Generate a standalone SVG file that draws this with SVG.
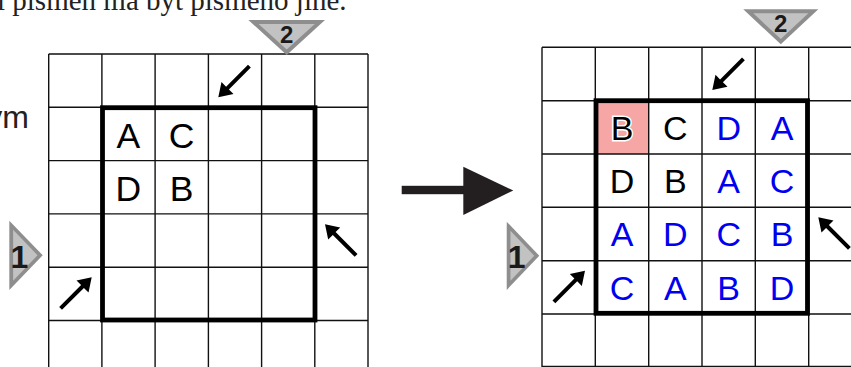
<svg xmlns="http://www.w3.org/2000/svg" xmlns:xlink="http://www.w3.org/1999/xlink" width="851" height="367" viewBox="0 0 851 367">
<style>
.grid{fill:none;stroke:#111;stroke-width:1.4}
.box{fill:none;stroke:#000;stroke-width:4.8}
.let{font-family:"Liberation Sans",Arial,sans-serif;text-anchor:middle}
.L{font-size:35.5px;fill:#000}
.R{font-size:34px}
.k{fill:#000}
.b{fill:#0000f0}
.num{font-family:"Liberation Sans",Arial,sans-serif;text-anchor:middle;fill:#1a1a1a}
.serif{font-family:"Liberation Serif","Times New Roman",serif;font-size:29px;fill:#222}
.sans{font-family:"Liberation Sans",Arial,sans-serif;font-size:32px;fill:#222}
.arr{fill:#000}
</style>
<defs>
<path id="sa" d="M0,0 L-13,-8.5 L-13,-2 L-44,-2 L-44,2 L-13,2 L-13,8.5 Z"/>
<g id="tri">
<polygon points="-38.3,-17.5 38.3,-17.5 0,17.5" fill="#8e8e8e"/>
<polygon points="-28.1,-13.5 28.1,-13.5 0,12.1" fill="#c2c2c2"/>
</g>
</defs>
<rect width="851" height="367" fill="#fff"/>

<text class="serif" x="-3" y="10.3">i písmen má být písmeno jiné.</text>
<text class="sans" x="29" y="128.3" text-anchor="end">ym</text>

<g id="left-grid">
<path class="grid" d="M48.7,54V367M101.9,54V367M155.1,54V367M208.4,54V367M261.6,54V367M314.8,54V367M368,54V367M48.7,54H368M48.7,107.3H368M48.7,160.6H368M48.7,213.9H368M48.7,267.2H368M48.7,320.5H368"/>
<rect class="box" x="102.5" y="107.7" width="212.5" height="212.3"/>
<text class="let L" x="128.3" y="147.7">A</text>
<text class="let L" x="181.6" y="147.7">C</text>
<text class="let L" x="128.3" y="200.8">D</text>
<text class="let L" x="181.6" y="200.8">B</text>
</g>

<g id="left-arrows">
<use xlink:href="#sa" href="#sa" class="arr" transform="translate(218.3,97.3) rotate(135)"/>
<use xlink:href="#sa" href="#sa" class="arr" transform="translate(91.7,277.3) rotate(-45)"/>
<use xlink:href="#sa" href="#sa" class="arr" transform="translate(325,224.3) rotate(-135)"/>
</g>

<g id="left-marker-2">
<use xlink:href="#tri" href="#tri" transform="translate(286.7,37.5)"/>
<text class="num" x="286.7" y="43.3" font-size="24" font-weight="bold">2</text>
</g>
<g id="left-marker-1">
<use xlink:href="#tri" href="#tri" transform="translate(26,255.3) rotate(-90) scale(0.905,0.954)"/>
<text class="num" x="19.5" y="268.3" font-size="32" font-weight="bold">1</text>
</g>

<g id="big-arrow" fill="#231f20">
<rect x="401.7" y="185.8" width="64" height="8.4"/>
<polygon points="463.3,166.7 513.3,190.5 463.3,215"/>
</g>

<g id="right-grid">
<rect x="595.3" y="100.7" width="53.4" height="53.3" fill="#f6a6a4"/>
<path class="grid" d="M542,47.3V367M595.3,47.3V367M648.7,47.3V367M702,47.3V367M755.3,47.3V367M808.7,47.3V367M542,47.3H851M542,100.7H851M542,154H851M542,207.3H851M542,260.7H851M542,314H851M542,366.5H851"/>
<rect class="box" x="596" y="100.7" width="211.5" height="212.6"/>
<text class="let R k" x="622" y="139.8" stroke="#fff" stroke-width="3" paint-order="stroke">B</text>
<text class="let R k" x="675.3" y="139.8">C</text>
<text class="let R b" x="728.7" y="139.8">D</text>
<text class="let R b" x="782" y="139.8">A</text>
<text class="let R k" x="622" y="193.1">D</text>
<text class="let R k" x="675.3" y="193.1">B</text>
<text class="let R b" x="728.7" y="193.1">A</text>
<text class="let R b" x="782" y="193.1">C</text>
<text class="let R b" x="622" y="246.4">A</text>
<text class="let R b" x="675.3" y="246.4">D</text>
<text class="let R b" x="728.7" y="246.4">C</text>
<text class="let R b" x="782" y="246.4">B</text>
<text class="let R b" x="622" y="299.7">C</text>
<text class="let R b" x="675.3" y="299.7">A</text>
<text class="let R b" x="728.7" y="299.7">B</text>
<text class="let R b" x="782" y="299.7">D</text>
</g>

<g id="right-arrows">
<use xlink:href="#sa" href="#sa" class="arr" transform="translate(712.3,90) rotate(135)"/>
<use xlink:href="#sa" href="#sa" class="arr" transform="translate(585,270.7) rotate(-45)"/>
<use xlink:href="#sa" href="#sa" class="arr" transform="translate(818.3,217.3) rotate(-135)"/>
</g>

<g id="right-marker-2">
<use xlink:href="#tri" href="#tri" transform="translate(780.8,26.8) scale(0.98,1)"/>
<text class="num" x="780.8" y="31.7" font-size="24" font-weight="bold">2</text>
</g>
<g id="right-marker-1">
<use xlink:href="#tri" href="#tri" transform="translate(523,255.8) rotate(-90) scale(0.89,0.93)"/>
<text class="num" x="516.7" y="268.3" font-size="32" font-weight="bold">1</text>
</g>
</svg>
